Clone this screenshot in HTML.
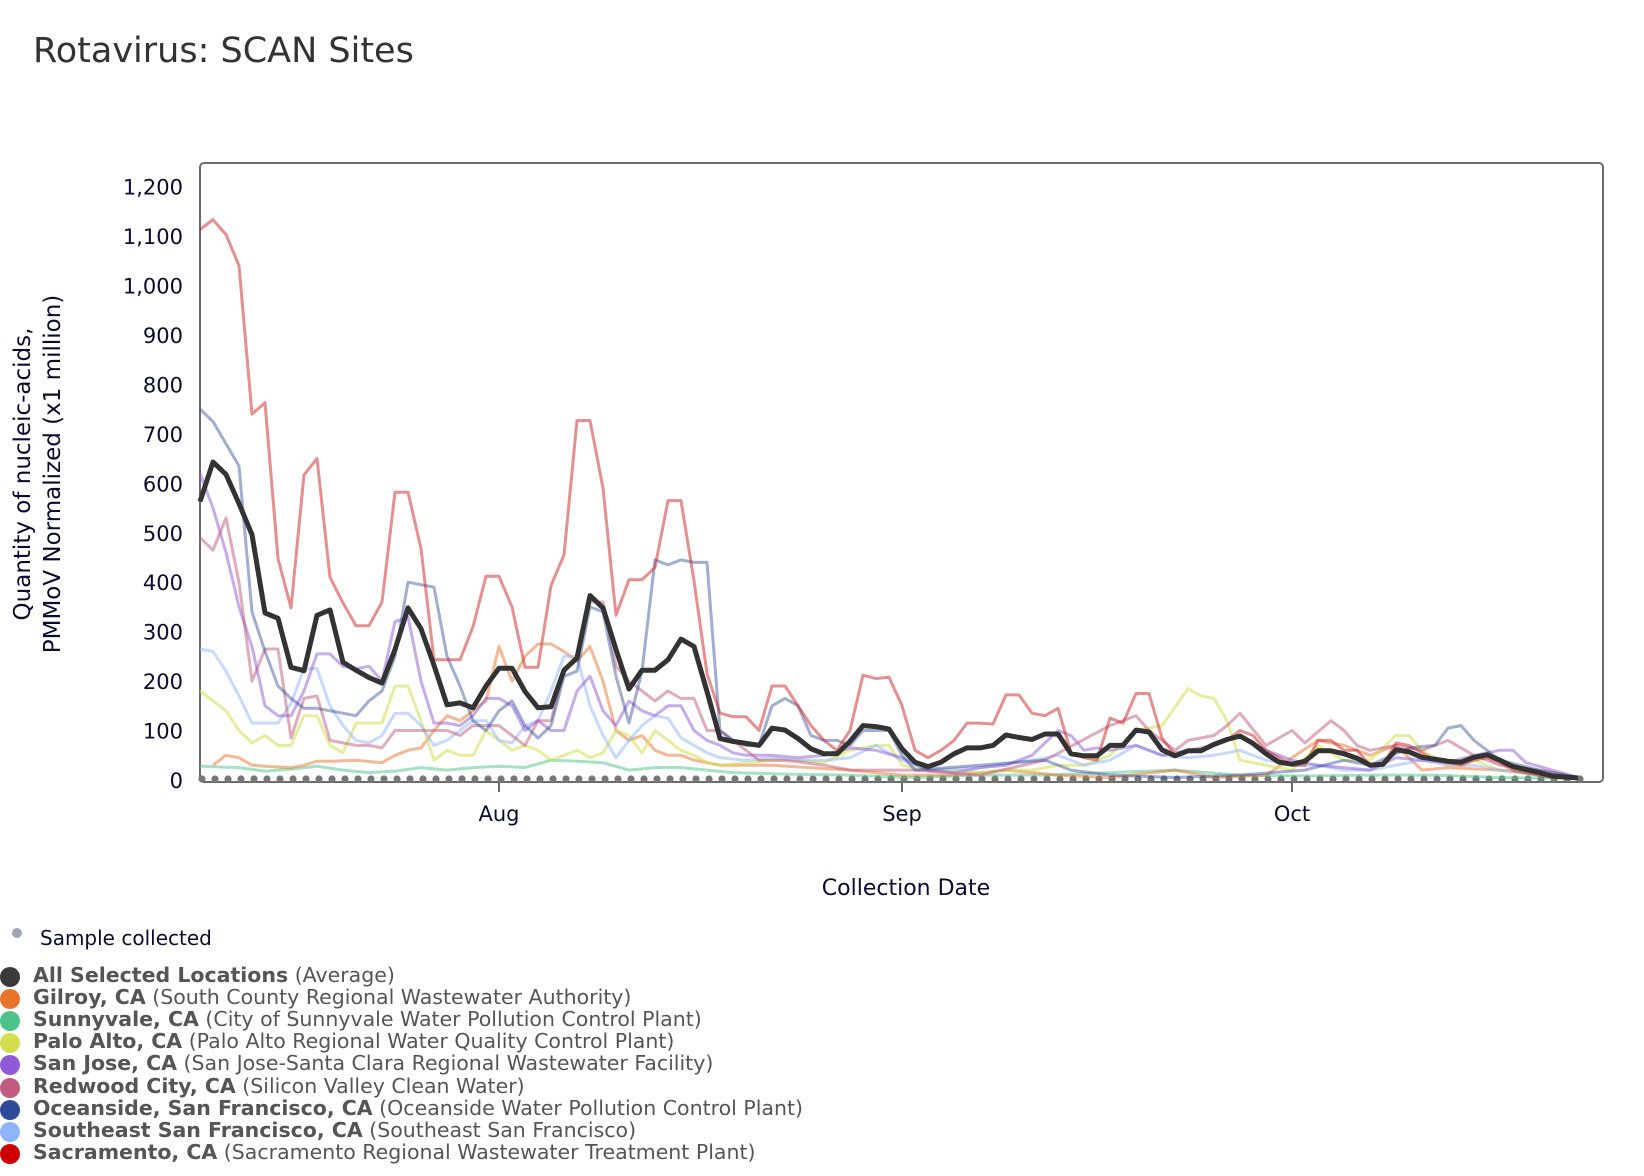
<!DOCTYPE html>
<html><head><meta charset="utf-8"><style>
body{margin:0;background:#fff;width:1644px;height:1176px;overflow:hidden;font-family:"DejaVu Sans",sans-serif;position:relative}
.t{position:absolute;white-space:nowrap}
.row{position:absolute;left:0;height:21px;overflow:hidden;width:1000px}
.row span.c{position:absolute;left:0;top:1px;width:20px;height:20px;border-radius:50%}
.row .tx{position:absolute;left:33px;top:-4px;font-size:20.5px;line-height:26px;color:#555;font-family:"DejaVu Sans",sans-serif}
.row b{color:#555}
</style></head><body>
<div class="t" style="left:33px;top:31px;font-size:35px;color:#333">Rotavirus: SCAN Sites</div>
<svg id="s" width="1644" height="900" style="position:absolute;left:0;top:0" xmlns="http://www.w3.org/2000/svg"></svg>
<div class="t" style="left:12px;top:928px;width:10px;height:10px;border-radius:50%;background:#a0a4b6"></div>
<div class="t" style="left:40px;top:926px;font-size:20px;color:#0b0b2e">Sample collected</div>
<div id="leg"></div>
<script>
const s=document.getElementById('s');
const X=d=>200+13*d, Y=v=>780-v*0.4945;
const F='font-family="DejaVu Sans"';
let h='';
h+='<rect x="200" y="163" width="1403" height="619" rx="4" fill="none" stroke="#6a6a6a" stroke-width="2"/>';
for(let v=0;v<=1200;v+=100){h+=`<text x="183" y="${Y(v)+8}" text-anchor="end" font-size="21" fill="#0b0b2e" ${F}>${v.toLocaleString('en-US')}</text>`;}
[[23,'Aug'],[54,'Sep'],[84,'Oct']].forEach(([d,l])=>{h+=`<line x1="${X(d)}" y1="782" x2="${X(d)}" y2="792" stroke="#6a6a6a" stroke-width="2"/><text x="${X(d)}" y="821" text-anchor="middle" font-size="21" fill="#0b0b2e" ${F}>${l}</text>`;});
h+=`<text x="906" y="895" text-anchor="middle" font-size="22" fill="#0b0b2e" ${F}>Collection Date</text>`;
h+=`<g transform="translate(30,474) rotate(-90)" font-size="23" fill="#0b0b2e" ${F}><text x="0" y="0" text-anchor="middle">Quantity of nucleic-acids,</text><text x="0" y="30" text-anchor="middle">PMMoV Normalized (x1 million)</text></g>`;
function kp(str){const a=str.trim().split(/[ ,]+/).map(Number);const p=[];for(let i=0;i<a.length;i+=2)p.push([a[i],a[i+1]]);return p;}
function seq(str){return str.trim().split(/[ ,]+/).map((v,i)=>[i,+v]);}
const series=[
['#4cc388',.5,kp('0 28,3 25,5 18,7 22,9 28,11 20,13 15,15 18,17 25,19 20,21 25,23 28,25 25,27 40,29 38,31 35,33 20,35 25,37 25,39 20,41 15,45 12,50 10,55 5,60 10,65 10,70 15,75 20,80 10,85 8,90 10,95 10,100 5,106 3')],
['#e8732a',.5,kp('1 30,2 50,3 45,4 30,5 28,7 25,8 30,9 38,10 38,12 40,14 35,15 50,16 60,17 65,18 100,19 130,20 120,21 140,22 160,23 270,24 200,25 250,26 275,27 275,28 260,29 240,30 270,31 200,32 100,33 80,34 90,35 60,36 50,37 50,38 40,40 30,44 30,50 20,54 10,58 10,62 20,66 10,70 5,75 20,78 5,82 10,86 80,87 75,88 70,89 60,90 50,92 70,94 20,96 25,100 20,106 5')],
['#d4df50',.55,kp('0 180,1 160,2 140,3 100,4 75,5 90,6 70,7 70,8 130,9 130,10 70,11 55,12 115,13 115,14 115,15 190,16 190,17 120,18 40,19 60,20 50,21 50,22 100,23 80,24 60,25 70,26 60,27 40,28 50,29 60,30 45,31 55,32 100,33 90,34 55,35 100,36 80,37 60,38 50,39 35,40 30,42 35,44 40,46 40,48 35,50 60,52 70,53 70,54 30,56 20,58 20,60 15,62 20,64 20,66 30,68 30,70 50,72 100,74 110,76 185,77 170,78 165,79 120,80 40,82 30,84 20,86 70,88 40,90 40,92 90,93 90,94 60,96 30,98 40,100 20,103 10,106 3')],
['#8fb4ff',.5,kp('0 265,1 260,2 220,3 170,4 115,5 115,6 115,7 155,8 225,9 225,10 150,11 110,12 80,13 75,14 90,15 135,16 135,17 110,18 70,19 80,20 100,21 120,22 120,23 80,24 75,25 110,26 120,27 180,28 250,29 250,30 150,31 90,32 45,33 80,34 110,35 130,36 125,37 85,38 70,39 55,40 45,42 40,44 45,46 40,48 40,50 45,52 70,54 40,56 20,60 25,64 40,66 50,68 30,70 40,72 70,74 50,76 45,78 50,80 60,82 40,84 30,86 30,88 20,90 20,92 30,94 40,96 30,98 30,100 20,103 10,106 3')],
['#8f5ad8',.5,kp('0 620,1 550,2 460,3 350,4 270,5 150,6 130,7 130,8 180,9 255,10 255,11 230,12 225,13 230,14 200,15 320,16 330,17 200,18 115,19 115,20 110,21 130,22 165,23 165,24 150,25 100,26 120,27 100,28 100,29 180,30 210,31 140,32 110,33 160,34 140,35 130,36 150,37 150,38 100,39 80,40 70,41 55,42 50,44 50,46 45,48 50,50 65,52 60,54 45,56 20,58 15,60 25,62 30,64 50,66 100,67 90,68 60,69 65,70 60,72 70,74 50,76 60,78 70,80 90,82 60,84 40,86 30,88 25,90 20,92 45,94 40,96 35,98 50,100 60,101 60,102 35,104 20,106 5')],
['#c05a7e',.5,kp('0 490,1 465,2 530,3 400,4 200,5 265,6 265,7 85,8 165,9 170,10 80,11 75,12 70,13 70,14 65,15 100,16 100,17 100,18 100,19 100,20 90,21 110,22 110,23 110,24 90,25 70,26 120,27 120,28 220,29 250,30 360,31 360,32 230,33 200,34 180,35 160,36 180,37 165,38 165,39 100,40 100,41 80,42 60,43 40,45 40,48 30,50 20,55 20,60 10,65 40,70 110,72 130,73 100,75 60,76 80,78 90,79 110,80 135,82 70,84 100,85 75,87 120,88 100,89 70,90 60,92 70,94 60,96 80,98 50,100 30,103 20,106 5')],
['#2e4a9a',.45,kp('0 750,1 725,2 680,3 635,4 340,5 260,6 190,7 165,8 145,9 145,10 140,11 135,12 130,13 160,14 180,15 250,16 400,17 395,18 390,19 250,20 190,21 120,22 100,23 140,24 160,25 110,26 85,27 110,28 210,29 220,30 350,31 340,32 210,33 115,34 220,35 445,36 435,37 445,38 440,39 440,40 100,41 80,42 70,43 70,44 150,45 165,46 150,47 90,48 80,49 80,50 70,51 100,52 100,53 100,54 50,55 20,60 30,65 40,67 20,70 10,75 5,80 10,85 20,88 40,90 30,93 65,95 70,96 105,97 110,98 80,100 40,103 20,106 5')],
['#cc1f1f',.5,seq('1113 1133 1103 1040 740 763 448 348 617 650 410 358 312 312 360 582 582 468 243 243 243 310 412 412 350 228 228 393 455 727 727 590 333 405 405 430 565 565 403 215 135 128 128 100 190 190 150 110 80 60 100 212 205 208 150 60 45 60 80 115 115 113 172 172 135 130 145 55 45 40 125 115 175 175 85 50 60 60 70 80 100 90 60 45 30 30 80 80 60 60 30 30 75 70 55 40 35 30 40 45 35 20 15 10 5 5 3')],
['#333333',1,seq('563 643 618 559 496 338 327 228 221 333 344 238 222 207 196 264 348 306 232 152 156 146 190 226 226 179 146 148 222 247 373 348 264 184 222 222 243 285 270 179 84 78 74 70 105 101 84 63 53 53 78 110 108 103 63 36 27 36 53 65 65 70 91 86 82 93 93 53 49 49 70 70 101 97 61 49 59 59 72 82 89 74 53 36 32 38 59 59 53 44 30 32 61 57 46 42 38 36 46 51 40 27 21 15 8 6 4')]
];
for(let d=0;d<=106;d++)h+=`<circle cx="${X(d)+2}" cy="779" r="3.6" fill="#777"/>`;
series.forEach(([c,o,p],i)=>{const last=i==series.length-1;h+=`<polyline points="${p.map(([d,v])=>X(d).toFixed(1)+','+Y(v).toFixed(1)).join(' ')}" fill="none" stroke="${c}" stroke-opacity="${o}" stroke-width="${last?5:3}" stroke-linejoin="round"/>`;});
s.innerHTML=h;
const L=[['#3a3a3a','All Selected Locations','(Average)'],['#e8732a','Gilroy, CA','(South County Regional Wastewater Authority)'],['#4cc388','Sunnyvale, CA','(City of Sunnyvale Water Pollution Control Plant)'],['#d4df50','Palo Alto, CA','(Palo Alto Regional Water Quality Control Plant)'],['#8f5ad8','San Jose, CA','(San Jose-Santa Clara Regional Wastewater Facility)'],['#c05a7e','Redwood City, CA','(Silicon Valley Clean Water)'],['#2e4a9a','Oceanside, San Francisco, CA','(Oceanside Water Pollution Control Plant)'],['#8fb4ff','Southeast San Francisco, CA','(Southeast San Francisco)'],['#cc0000','Sacramento, CA','(Sacramento Regional Wastewater Treatment Plant)']];
let g='';L.forEach(([c,b,t],i)=>{g+=`<div class="row" style="top:${966+i*22.1}px"><span class="c" style="background:${c}"></span><div class="tx"><b>${b}</b> ${t}</div></div>`;});
document.getElementById('leg').innerHTML=g;
</script>
</body></html>
